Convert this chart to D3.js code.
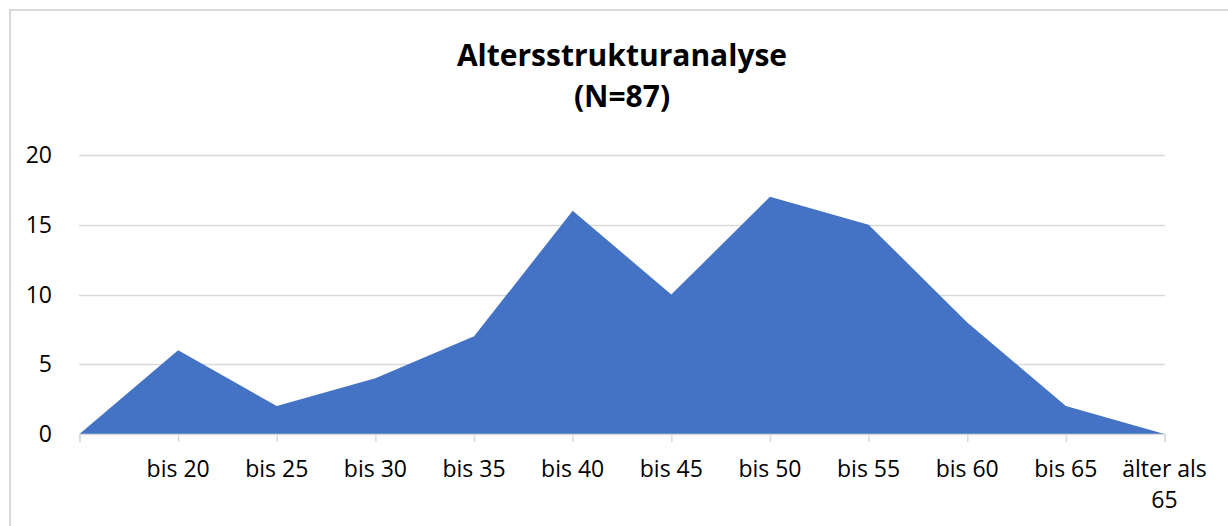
<!DOCTYPE html>
<html><head><meta charset="utf-8">
<script src="https://cdn.jsdelivr.net/npm/d3@7"></script>
<style>html,body{margin:0;padding:0;background:#fff;}svg{display:block;font-family:"Open Sans",Lato,sans-serif;}</style>
</head><body>
<svg id="c" width="1228" height="526"></svg>
<script>
const categories = ["", "bis 20", "bis 25", "bis 30", "bis 35", "bis 40", "bis 45", "bis 50", "bis 55", "bis 60", "bis 65", "älter als 65"];
const values = [0, 6, 2, 4, 7, 16, 10, 17, 15, 8, 2, 0];
const yTicks = [0, 5, 10, 15, 20];
const titleLines = ["Altersstrukturanalyse", "(N=87)"];

const svg = d3.select("#c");
svg.append("rect").attr("x",10).attr("y",10).attr("width",1240).attr("height",540)
  .attr("fill","#fff").attr("stroke","#d9d9d9").attr("stroke-width",2);

const x = d3.scalePoint().domain(d3.range(categories.length)).range([79.5, 1164.5]);
const y = d3.scaleLinear().domain([0,20]).range([434, 155]);

// gridlines
svg.append("g").selectAll("line").data(yTicks.filter(d=>d>0)).join("line")
  .attr("x1",79).attr("x2",1165).attr("y1",d=>Math.round(y(d))+0.5).attr("y2",d=>Math.round(y(d))+0.5)
  .attr("stroke","#d9d9d9").attr("stroke-width",1.5);

// area
const area = d3.area().x((d,i)=>x(i)).y0(y(0)).y1(d=>y(d));
svg.append("path").datum(values).attr("d",area).attr("fill","#4472c4");

// x axis
const xAxis = d3.axisBottom(x).tickSize(8).tickFormat("");
const gx = svg.append("g").attr("transform",`translate(0,${y(0)})`).call(xAxis);
gx.select(".domain").attr("stroke","#d9d9d9").attr("stroke-width",1.5);
gx.selectAll(".tick line").attr("stroke","#d9d9d9").attr("stroke-width",1.5);

// x labels
const lab = svg.append("g").attr("font-size",23).attr("fill","#000").attr("text-anchor","middle");
categories.forEach((c,i)=>{
  if(!c) return;
  if(c === "älter als 65"){
    lab.append("text").attr("x",x(i)).attr("y",477).text("älter als");
    lab.append("text").attr("x",x(i)).attr("y",508).text("65");
  } else {
    lab.append("text").attr("x",x(i)).attr("y",477).text(c);
  }
});

// y labels
svg.append("g").attr("font-size",23).attr("text-anchor","end").selectAll("text").data(yTicks).join("text")
  .attr("x",52).attr("y",d=>y(d)+8).text(d=>d);

// title
svg.append("g").attr("font-size",30).attr("font-weight","bold").attr("text-anchor","middle")
  .selectAll("text").data(titleLines).join("text")
  .attr("x",622).attr("y",(d,i)=>66+i*41).text(d=>d);
</script>
</body></html>
